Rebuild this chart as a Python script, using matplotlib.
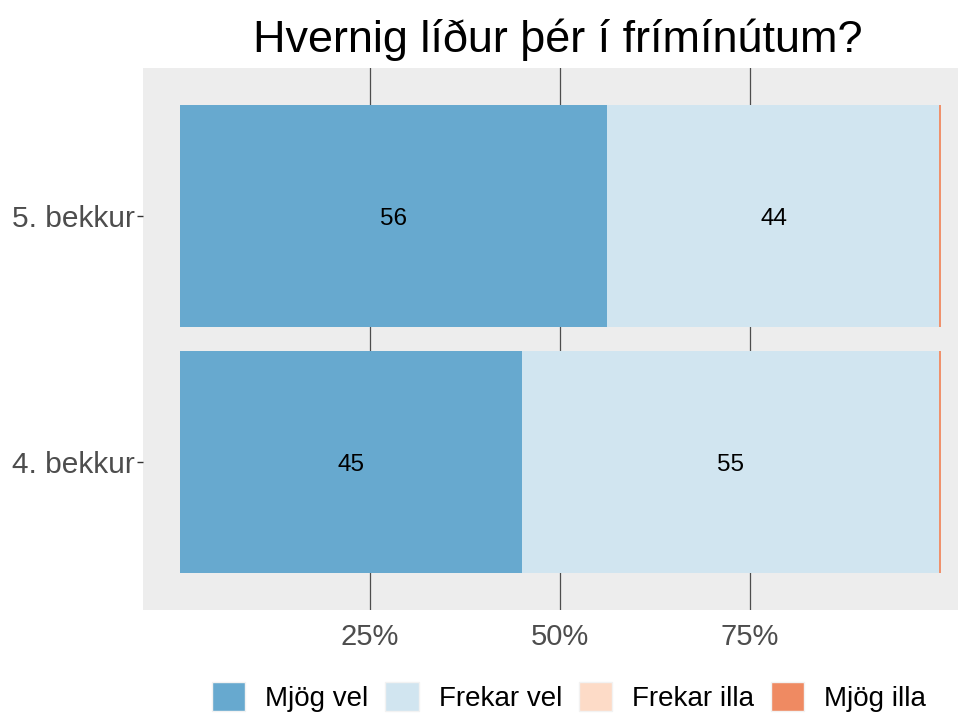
import matplotlib
matplotlib.use("Agg")
import matplotlib.pyplot as plt
from matplotlib.patches import Patch
from matplotlib.transforms import ScaledTranslation

plt.rcParams['font.family'] = ['Liberation Sans', 'DejaVu Sans']

title = "Hvernig líður þér í frímínútum?"
groups = ["4. bekkur", "5. bekkur"]
categories = ["Mjög vel", "Frekar vel", "Frekar illa", "Mjög illa"]
colors = ["#67A9CF", "#D1E5F0", "#FDDBC7", "#EF8A62"]
mjog_vel = [45.0, 56.2]
frekar_vel = [55.0, 43.8]
frekar_illa = [0.0, 0.0]
mjog_illa = [0.0, 0.0]
series = [mjog_vel, frekar_vel, frekar_illa, mjog_illa]
xticks = [0.25, 0.50, 0.75]
xticklabels = ["25%", "50%", "75%"]

W, H = 966, 713
fig = plt.figure(figsize=(W / 100, H / 100), dpi=100)
ax = fig.add_axes([143 / W, 1 - 610 / H, (958 - 143) / W, (610 - 68) / H])
ax.set_facecolor("#EDEDED")

shift = ScaledTranslation(0, -3 / 100, fig.dpi_scale_trans)
ypos = [1, 2]
left = [0.0, 0.0]
for cat, vals, col in zip(categories, series, colors):
    fr = [v / 100 for v in vals]
    if all(v == 0 for v in vals):
        ax.barh(ypos, fr, left=left, height=0.9, color=col, edgecolor=col,
                linewidth=1.3, zorder=2)
    else:
        ax.barh(ypos, fr, left=left, height=0.9, color=col, linewidth=0, zorder=2)
        for y, l, f, v in zip(ypos, left, fr, vals):
            if v > 0:
                ax.text(l + f / 2, y, f"{round(v):d}", ha="center", va="center",
                        fontsize=17.5, color="black", zorder=3,
                        transform=ax.transData + shift)
    left = [l + f for l, f in zip(left, fr)]

ax.set_xlim(-0.0487, 1.0237)
ax.set_ylim(0.4, 2.6)
ax.set_xticks(xticks)
ax.set_xticklabels(xticklabels)
ax.set_yticks(ypos)
ax.set_yticklabels(groups)
ax.grid(axis="x", color="#4D4D4D", linewidth=0.9, zorder=1)
ax.grid(axis="y", visible=False)
ax.set_axisbelow(True)
for s in ax.spines.values():
    s.set_visible(False)
ax.tick_params(axis="x", length=0, pad=9.5, labelsize=21, labelcolor="#4D4D4D")
ax.tick_params(axis="y", length=4, width=1, color="#333333", pad=2,
               labelsize=21.5, labelcolor="#4D4D4D")

fig.text(557.5 / W, 1 - 52 / H, title, ha="center", va="baseline",
         fontsize=32.4, color="black")

handles = [Patch(facecolor=c, edgecolor="#F2F2F2", linewidth=1) for c in colors]
fig.legend(handles, categories, loc="center", bbox_to_anchor=(569 / W, 1 - 697 / H),
           ncol=4, frameon=False, fontsize=20, handlelength=1.2, handleheight=1.2,
           handletextpad=0.72, columnspacing=0.61, borderaxespad=0, borderpad=0)

fig.savefig("out.png", dpi=100)
